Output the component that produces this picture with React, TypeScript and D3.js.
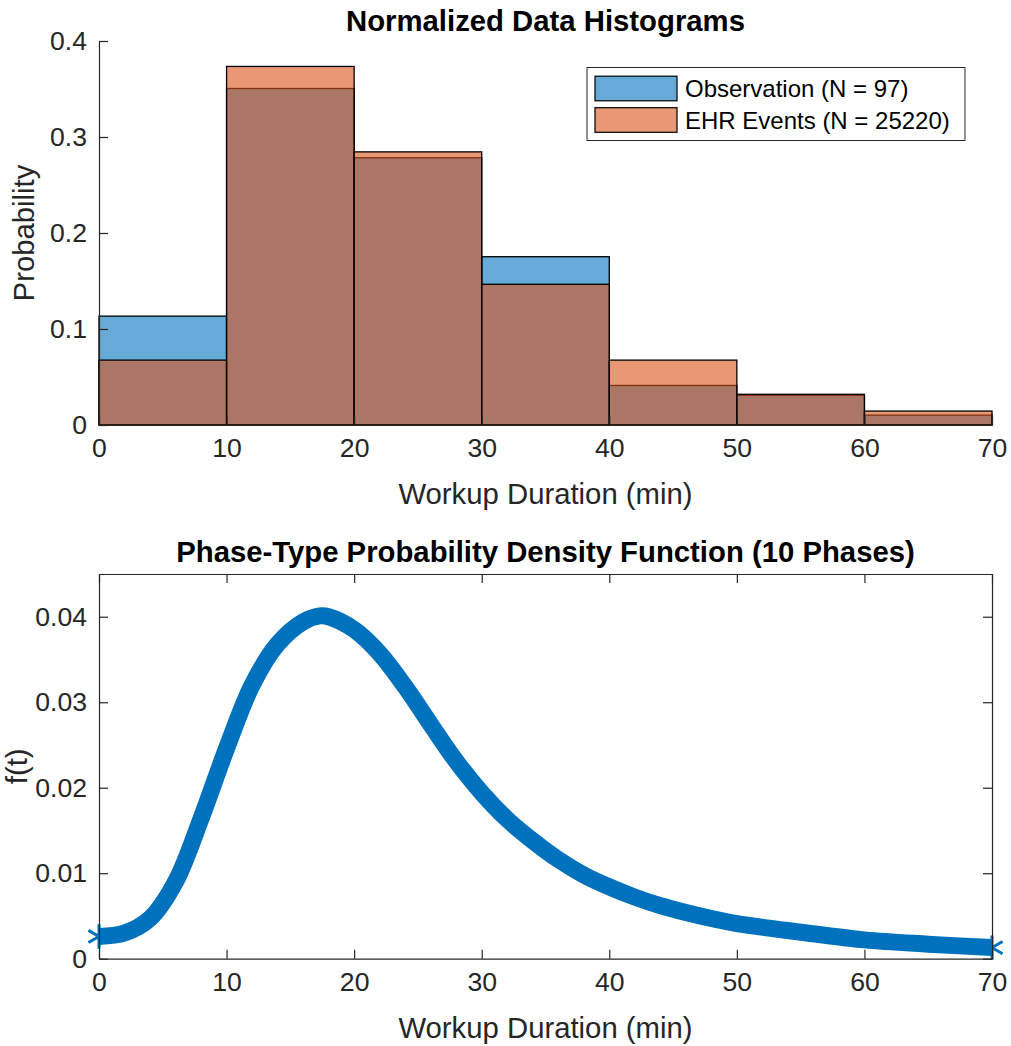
import { useEffect, useRef } from 'react';
import * as d3 from 'd3';

// histogram bins (minutes) and normalized probabilities
const binEdges = [0, 10, 20, 30, 40, 50, 60, 70];
const observationProb = [0.1134, 0.3505, 0.2784, 0.1753, 0.0412, 0.0309, 0.0103];
const ehrProb = [0.0676, 0.3735, 0.2845, 0.1466, 0.0676, 0.032, 0.0145];
const legendLabels = ['Observation (N = 97)', 'EHR Events (N = 25220)'];

// phase-type pdf
const pdfTimes = [0, 2, 4, 6, 8, 10, 12, 14, 16, 17.3, 18, 20, 22, 24, 26, 28, 30, 32, 34, 36, 38, 40, 42, 44, 46, 48, 50, 55, 60, 65, 70];
const pdfValues = [0.0026, 0.003, 0.0047, 0.009, 0.0164, 0.0246, 0.032, 0.0368, 0.0394, 0.0401, 0.04, 0.0385, 0.0357, 0.0318, 0.0274, 0.0231, 0.0194, 0.0163, 0.0138, 0.0116, 0.0098, 0.0084, 0.0072, 0.0062, 0.0054, 0.0047, 0.0041, 0.0031, 0.0022, 0.0017, 0.0013];

const xTicks = [0, 10, 20, 30, 40, 50, 60, 70];
const histYTicks = [0, 0.1, 0.2, 0.3, 0.4];
const pdfYTicks = [0, 0.01, 0.02, 0.03, 0.04];

const FONT = '"Liberation Sans", Arial, Helvetica, sans-serif';
const AXIS_COLOR = '#262626';
const BLUE = '#0072BD';
const ORANGE = '#D95319';
const TICK_FONT = 26.6;
const LABEL_FONT = 29.3;
const LEGEND_FONT = 24;

export default function App() {
    const svgRef = useRef(null);

    useEffect(() => {
        const svg = d3.select(svgRef.current);
        svg.selectAll('*').remove();

        const left = 99;
        const right = 992;
        const xScale = d3.scaleLinear().domain([0, 70]).range([left, right]);

        // style an axis group like matlab
        const styleAxis = (sel, labels = true) => {
            sel.attr('color', AXIS_COLOR)
                .style('font-family', FONT)
                .style('font-size', TICK_FONT + 'px');
            sel.selectAll('path, line').attr('stroke-width', 1.2);
            if (!labels) sel.selectAll('text').remove();
            sel.selectAll('text').attr('fill', AXIS_COLOR);
        };

        // ---------- top: histograms ----------
        const yHist = d3.scaleLinear().domain([0, 0.4]).range([425, 41]);
        const bins = observationProb.map((v, i) => ({
            x0: binEdges[i],
            x1: binEdges[i + 1],
            obs: v,
            ehr: ehrProb[i],
        }));

        const series = [
            { key: 'obs', color: BLUE },
            { key: 'ehr', color: ORANGE },
        ];
        series.forEach(s => {
            svg.append('g')
                .selectAll('rect')
                .data(bins)
                .join('rect')
                .attr('x', d => xScale(d.x0))
                .attr('width', d => xScale(d.x1) - xScale(d.x0))
                .attr('y', d => yHist(d[s.key]))
                .attr('height', d => yHist(0) - yHist(d[s.key]))
                .attr('fill', s.color)
                .attr('fill-opacity', 0.6)
                .attr('stroke', '#000')
                .attr('stroke-width', 1.3);
        });

        svg.append('g')
            .attr('transform', `translate(0,${yHist(0)})`)
            .call(d3.axisBottom(xScale).tickValues(xTicks).tickFormat(d3.format('d')).tickSizeInner(-9).tickSizeOuter(0).tickPadding(13))
            .call(styleAxis);

        svg.append('g')
            .attr('transform', `translate(${left},0)`)
            .call(d3.axisLeft(yHist).tickValues(histYTicks).tickFormat(d => String(d)).tickSizeInner(-9).tickSizeOuter(0).tickPadding(12))
            .call(styleAxis);

        svg.append('text')
            .attr('x', (left + right) / 2)
            .attr('y', 31)
            .attr('text-anchor', 'middle')
            .style('font-family', FONT)
            .style('font-size', LABEL_FONT + 'px')
            .style('font-weight', 'bold')
            .text('Normalized Data Histograms');

        svg.append('text')
            .attr('x', (left + right) / 2)
            .attr('y', 504)
            .attr('text-anchor', 'middle')
            .attr('fill', AXIS_COLOR)
            .style('font-family', FONT)
            .style('font-size', LABEL_FONT + 'px')
            .text('Workup Duration (min)');

        svg.append('text')
            .attr('transform', `translate(34,${(yHist(0) + yHist(0.4)) / 2}) rotate(-90)`)
            .attr('text-anchor', 'middle')
            .attr('fill', AXIS_COLOR)
            .style('font-family', FONT)
            .style('font-size', LABEL_FONT + 'px')
            .text('Probability');

        // legend
        const legend = svg.append('g');
        legend.append('rect')
            .attr('x', 587).attr('y', 67.5)
            .attr('width', 378).attr('height', 73)
            .attr('fill', '#fff')
            .attr('stroke', AXIS_COLOR)
            .attr('stroke-width', 1);
        series.forEach((s, i) => {
            const cy = 88.5 + i * 31.5;
            legend.append('rect')
                .attr('x', 595).attr('y', cy - 12.3)
                .attr('width', 82).attr('height', 24.6)
                .attr('fill', s.color)
                .attr('fill-opacity', 0.6)
                .attr('stroke', '#000')
                .attr('stroke-width', 1.2);
            legend.append('text')
                .attr('x', 685)
                .attr('y', cy + 8.6)
                .style('font-family', FONT)
                .style('font-size', LEGEND_FONT + 'px')
                .text(legendLabels[i]);
        });

        // ---------- bottom: phase-type pdf ----------
        const yPdf = d3.scaleLinear().domain([0, 0.045]).range([958.7, 574]);
        const pdf = pdfTimes.map((t, i) => ({ t, v: pdfValues[i] }));

        const line = d3.line()
            .x(d => xScale(d.t))
            .y(d => yPdf(d.v))
            .curve(d3.curveCatmullRom.alpha(0.5));

        svg.append('path')
            .datum(pdf)
            .attr('fill', 'none')
            .attr('stroke', BLUE)
            .attr('stroke-width', 17)
            .attr('stroke-linejoin', 'round')
            .attr('d', line);

        // asterisk markers showing at the ends
        const star = d3.symbol().type(d3.symbolAsterisk).size(420);
        svg.append('g')
            .selectAll('path')
            .data([pdf[0], pdf[pdf.length - 1]])
            .join('path')
            .attr('transform', d => `translate(${xScale(d.t)},${yPdf(d.v)})`)
            .attr('d', star)
            .attr('fill', 'none')
            .attr('stroke', BLUE)
            .attr('stroke-width', 3);

        svg.append('g')
            .attr('transform', `translate(0,${yPdf(0)})`)
            .call(d3.axisBottom(xScale).tickValues(xTicks).tickFormat(d3.format('d')).tickSizeInner(-9).tickSizeOuter(0).tickPadding(13))
            .call(styleAxis);
        svg.append('g')
            .attr('transform', `translate(0,${yPdf(0.045)})`)
            .call(d3.axisTop(xScale).tickValues(xTicks).tickSizeInner(-9).tickSizeOuter(0))
            .call(s => styleAxis(s, false));
        svg.append('g')
            .attr('transform', `translate(${left},0)`)
            .call(d3.axisLeft(yPdf).tickValues(pdfYTicks).tickFormat(d => String(d)).tickSizeInner(-9).tickSizeOuter(0).tickPadding(12))
            .call(styleAxis);
        svg.append('g')
            .attr('transform', `translate(${right},0)`)
            .call(d3.axisRight(yPdf).tickValues(pdfYTicks).tickSizeInner(-9).tickSizeOuter(0))
            .call(s => styleAxis(s, false));

        svg.append('text')
            .attr('x', (left + right) / 2)
            .attr('y', 562)
            .attr('text-anchor', 'middle')
            .style('font-family', FONT)
            .style('font-size', LABEL_FONT + 'px')
            .style('font-weight', 'bold')
            .text('Phase-Type Probability Density Function (10 Phases)');

        svg.append('text')
            .attr('x', (left + right) / 2)
            .attr('y', 1038)
            .attr('text-anchor', 'middle')
            .attr('fill', AXIS_COLOR)
            .style('font-family', FONT)
            .style('font-size', LABEL_FONT + 'px')
            .text('Workup Duration (min)');

        svg.append('text')
            .attr('transform', `translate(27,${(yPdf(0) + yPdf(0.045)) / 2}) rotate(-90)`)
            .attr('text-anchor', 'middle')
            .attr('fill', AXIS_COLOR)
            .style('font-family', FONT)
            .style('font-size', LABEL_FONT + 'px')
            .text('f(t)');
    }, []);

    return (
        <div style={{ position: 'absolute', left: 0, top: 0, width: 1011, height: 1046, background: '#fff' }}>
            <svg ref={svgRef} width={1011} height={1046} style={{ display: 'block' }} />
        </div>
    );
}
